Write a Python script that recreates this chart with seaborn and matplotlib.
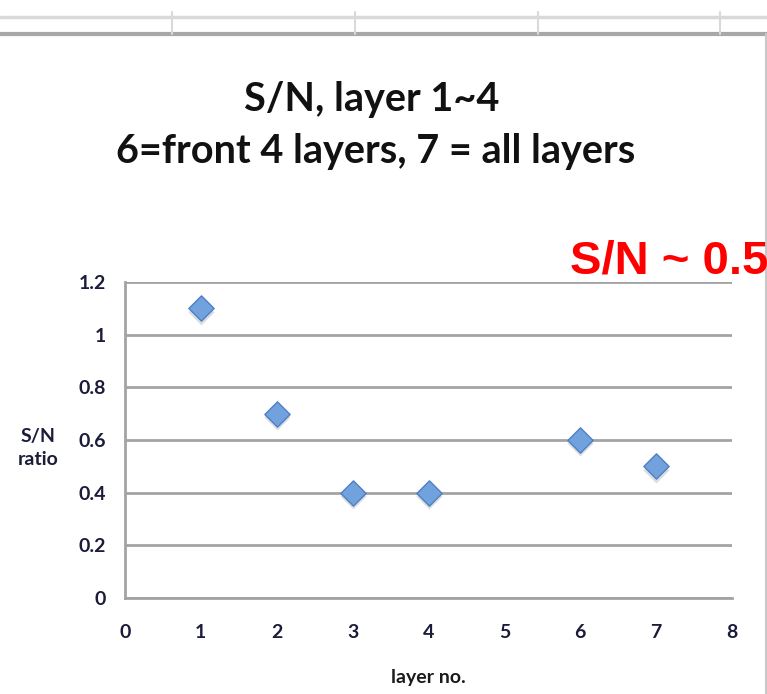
import matplotlib
matplotlib.use("Agg")
import matplotlib.pyplot as plt
from matplotlib.lines import Line2D
import seaborn as sns
import pandas as pd

# S/N ratio per layer number (6 = front 4 layers, 7 = all layers)
layers = [1, 2, 3, 4, 6, 7]
sn_ratio = [1.1, 0.7, 0.4, 0.4, 0.6, 0.5]
x_ticks = [0, 1, 2, 3, 4, 5, 6, 7, 8]
y_ticks = [0, 0.2, 0.4, 0.6, 0.8, 1.0, 1.2]
y_tick_labels = ["0", "0.2", "0.4", "0.6", "0.8", "1", "1.2"]

sns.set_style("white")
plt.rcParams["font.family"] = ["Lato", "DejaVu Sans"]

W, H = 767, 694
fig = plt.figure(figsize=(W / 100, H / 100), dpi=100)
ax = fig.add_axes([125 / W, 1 - 598 / H, (732 - 125) / W, (598 - 282) / H])

df = pd.DataFrame({"layer": layers, "sn": sn_ratio})

# soft drop shadow under each diamond
ax.scatter(df["layer"], df["sn"] - 0.013, marker="D", s=175, color="#9aa0a8",
           alpha=0.35, linewidths=0, zorder=3)
sns.scatterplot(data=df, x="layer", y="sn", marker="D", s=165,
                color="#72a2de", edgecolor="#4d80c4", linewidth=1.0,
                ax=ax, zorder=4, legend=False)

ax.set_xlim(0, 8)
ax.set_ylim(0, 1.2)
ax.set_xticks(x_ticks)
ax.set_yticks(y_ticks)
ax.set_yticklabels(y_tick_labels)

grid_c = "#a3a3a3"
ax.yaxis.grid(True, color=grid_c, linewidth=2.0, zorder=1)
ax.xaxis.grid(False)
for side in ["top", "right"]:
    ax.spines[side].set_visible(False)
for side in ["left", "bottom"]:
    ax.spines[side].set_color(grid_c)
    ax.spines[side].set_linewidth(2.0)

ax.tick_params(axis="both", which="both", direction="out", length=6, width=1.5,
               color=grid_c, labelsize=14, labelcolor="#1b1b3a")
ax.tick_params(axis="x", pad=13)
ax.tick_params(axis="y", pad=8)
for lab in ax.get_xticklabels() + ax.get_yticklabels():
    lab.set_fontweight("bold")

ax.set_xlabel("layer no.", fontsize=14, fontweight="bold", color="#1b1b1b", labelpad=20)
ax.set_ylabel("S/N\nratio", fontsize=14, fontweight="bold", color="#1b1b3a",
              rotation=0, ha="center", va="center", labelpad=0, linespacing=1.45)
ax.yaxis.set_label_coords(-0.143, 0.475)

# chart title (two lines)
fig.text(372 / W, 1 - 100 / H, "S/N, layer 1~4", ha="center", va="center",
         fontsize=28.5, fontweight="bold", color="#111111")
fig.text(376 / W, 1 - 152 / H, "6=front 4 layers, 7 = all layers", ha="center",
         va="center", fontsize=28.5, fontweight="bold", color="#111111")

# annotation running off the right edge
fig.text(570 / W, 1 - 262 / H, "S/N ~ 0.5", ha="left", va="center",
         fontsize=34, fontweight="bold", color="#ff0000",
         family=["Liberation Sans", "DejaVu Sans"])

# spreadsheet cell lines above the chart
light = "#d9d9d9"
fig.add_artist(Line2D([0, 1], [1 - 17 / H, 1 - 17 / H], color=light, lw=2.5))
fig.add_artist(Line2D([0, 1], [1 - 34 / H, 1 - 34 / H], color="#a8a8a8", lw=3))
for xv in [172, 355, 538, 720]:
    fig.add_artist(Line2D([xv / W, xv / W], [1 - 12 / H, 1 - 34 / H], color=light, lw=1.5))
fig.add_artist(Line2D([765.5 / W, 765.5 / W], [1 - 34 / H, 0], color="#c8c8c8", lw=1.5))

fig.savefig("out.png", dpi=100)
